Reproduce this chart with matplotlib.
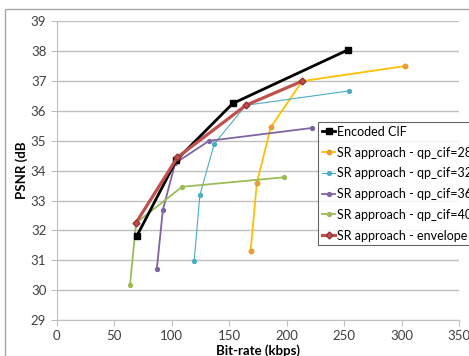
import matplotlib.pyplot as plt
from matplotlib.patches import Rectangle

plt.rcParams['font.family'] = ['Lato', 'DejaVu Sans']

enc_x = [69.5, 104, 153, 253.5]
enc_y = [31.8, 34.35, 36.25, 38.05]

qp28_x = [168.5, 174, 186, 213.5, 302.5]
qp28_y = [31.3, 33.58, 35.45, 37.0, 37.5]

qp32_x = [119.5, 124.5, 137, 164.5, 254]
qp32_y = [30.98, 33.19, 34.9, 36.19, 36.67]

qp36_x = [87, 92.3, 103, 132.5, 222]
qp36_y = [30.7, 32.69, 34.25, 35.0, 35.43]

qp40_x = [63.7, 69, 109, 198]
qp40_y = [30.16, 32.25, 33.46, 33.78]

env_x = [69, 105, 164.5, 213.5]
env_y = [32.26, 34.45, 36.19, 37.0]

fig = plt.figure(figsize=(4.69, 3.56), dpi=100)
ax = fig.add_axes([0.1209, 0.1011, 0.8584, 0.8389])

# outer chart border (cropped at right and bottom)
fig.patches.append(Rectangle((5 / 469, -0.1), 1.2, 1 - 9 / 356 + 0.1,
                             transform=fig.transFigure, fill=False,
                             edgecolor='#a6a6a6', linewidth=1.0))

ax.plot(enc_x, enc_y, color='black', lw=2, marker='s', ms=4, label='Encoded CIF', zorder=5)
ax.plot(qp28_x, qp28_y, color='#ffc000', lw=1.3, marker='o', ms=3.2,
        mfc='#f79646', mec='#e0a020', label='SR approach - qp_cif=28', zorder=4)
ax.plot(qp32_x, qp32_y, color='#4bacc6', lw=0.8, marker='o', ms=2.8,
        label='SR approach - qp_cif=32', zorder=4)
ax.plot(qp36_x, qp36_y, color='#8064a2', lw=1.3, marker='o', ms=2.8,
        label='SR approach - qp_cif=36', zorder=4)
ax.plot(qp40_x, qp40_y, color='#9bbb59', lw=1.3, marker='o', ms=2.8,
        label='SR approach - qp_cif=40', zorder=4)
ax.plot(env_x, env_y, color='#c0504d', lw=2.3, marker='D', ms=3.5,
        mfc='#c0504d', mec='#943634', label='SR approach - envelope', zorder=6)

ax.set_xlim(0, 350)
ax.set_ylim(29, 39)
ax.set_xticks(range(0, 351, 50))
ax.set_yticks(range(29, 40))
ax.yaxis.grid(True, color='#bfbfbf', lw=1)
ax.set_axisbelow(True)
for s in ['top', 'right']:
    ax.spines[s].set_visible(False)
for s in ['left', 'bottom']:
    ax.spines[s].set_color('#bfbfbf')
ax.tick_params(colors='#404040', labelsize=9.5, length=4, color='#bfbfbf')

ax.set_xlabel('Bit-rate (kbps)', fontsize=9.5, fontweight='bold', labelpad=1)
ax.set_ylabel('PSNR (dB', fontsize=9.5, fontweight='bold', labelpad=2)

leg = ax.legend(loc='upper left', bbox_to_anchor=(0.649, 0.663), fontsize=9.0,
                frameon=True, fancybox=False, edgecolor='#404040',
                handlelength=1.1, handletextpad=0.15, labelspacing=0.7,
                borderpad=0.3, borderaxespad=0)
leg.get_frame().set_linewidth(0.8)

fig.savefig('out.png', dpi=100)
